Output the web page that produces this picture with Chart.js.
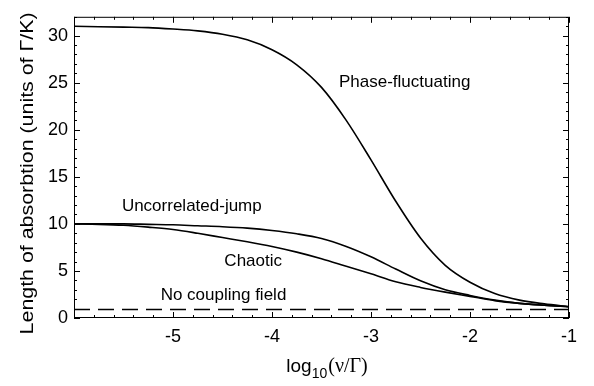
<!DOCTYPE html>
<html>
<head>
<meta charset="utf-8">
<script src="https://cdn.jsdelivr.net/npm/chart.js@4/dist/chart.umd.min.js"></script>
<style>
  html, body { margin: 0; padding: 0; background: #fff; }
  #wrap { width: 594px; height: 386px; }
</style>
</head>
<body>
<div id="wrap"><canvas id="chart-absorption"></canvas></div>
<script>
// values, x = log10(nu/Gamma)
const logNu = [-6, -5.75, -5.5, -5.25, -5, -4.75, -4.5, -4.25, -4, -3.75, -3.5,
               -3.25, -3, -2.75, -2.5, -2.25, -2, -1.75, -1.5, -1.25, -1];
const phaseFluctuating = [31.0, 30.95, 30.9, 30.85, 30.7, 30.5, 30.15, 29.55, 28.5, 26.9, 24.5,
                          21.0, 16.8, 12.4, 8.5, 5.6, 3.8, 2.6, 1.9, 1.5, 1.2];
const uncorrelatedJump = [10.0, 10.0, 10.0, 9.95, 9.9, 9.8, 9.7, 9.55, 9.3, 8.95, 8.45,
                          7.6, 6.5, 5.2, 3.95, 3.0, 2.4, 1.9, 1.55, 1.35, 1.2];
const chaotic = [10.0, 9.95, 9.85, 9.65, 9.4, 9.0, 8.55, 8.1, 7.6, 7.0, 6.3,
                 5.5, 4.7, 3.85, 3.25, 2.75, 2.3, 1.85, 1.55, 1.35, 1.2];
const noCouplingX = [-6, -1];
const noCoupling = [0.9, 0.9];

const xTicks = [-5, -4, -3, -2, -1];
const yTicks = [0, 5, 10, 15, 20, 25, 30];

// curve labels, placed in data coordinates
const curveLabels = [
    { text: 'Phase-fluctuating', x: -2.66, y: 25.0 },
    { text: 'Uncorrelated-jump', x: -4.81, y: 11.9 },
    { text: 'Chaotic',           x: -4.19, y: 6.0 },
    { text: 'No coupling field', x: -4.49, y: 2.4 }
];

const FONT = '"Liberation Sans", Arial, Helvetica, sans-serif';
const SERIF = '"Liberation Serif", "Times New Roman", serif';

function toPoints(xs, ys){
    return xs.map((x, i) => ({ x: x, y: ys[i] }));
}

function curve(label, ys, dash){
    return {
        label: label,
        data: toPoints(dash ? noCouplingX : logNu, ys),
        borderColor: '#000',
        borderWidth: dash ? 1.5 : 1.6,
        borderDash: dash ? [16, 8] : [],
        pointRadius: 0,
        fill: false,
        cubicInterpolationMode: 'monotone'
    };
}

// box around the plot with inward ticks on every side
const frameTicks = {
    id: 'frameTicks',
    afterDatasetsDraw(chart){
        const ctx = chart.ctx;
        const a = chart.chartArea;
        const xs = chart.scales.x, ys = chart.scales.y;
        ctx.save();
        ctx.strokeStyle = '#000';
        ctx.lineWidth = 1;
        ctx.strokeRect(a.left + 0.5, a.top + 0.5, a.right - a.left - 1, a.bottom - a.top - 1);

        ctx.beginPath();
        for(let i = 0; i <= 25; i++){
            const v = -6 + i * 0.2;
            const major = Math.abs(v - Math.round(v)) < 1e-6;
            const len = major ? 6 : 3;
            const px = Math.round(xs.getPixelForValue(v)) + 0.5;
            ctx.moveTo(px, a.bottom); ctx.lineTo(px, a.bottom - len);
            ctx.moveTo(px, a.top); ctx.lineTo(px, a.top + len);
        }
        for(let v = 0; v <= 32; v++){
            const len = v % 5 == 0 ? 6 : 3;
            const py = Math.round(ys.getPixelForValue(v)) + 0.5;
            ctx.moveTo(a.left, py); ctx.lineTo(a.left + len, py);
            ctx.moveTo(a.right, py); ctx.lineTo(a.right - len, py);
        }
        ctx.stroke();
        ctx.restore();
    }
};

const textLayer = {
    id: 'textLayer',
    afterDraw(chart){
        const ctx = chart.ctx;
        const a = chart.chartArea;
        const xs = chart.scales.x, ys = chart.scales.y;
        ctx.save();
        ctx.fillStyle = '#000';

        ctx.font = '17px ' + FONT;
        ctx.textAlign = 'center';
        ctx.textBaseline = 'middle';
        curveLabels.forEach(l => {
            ctx.fillText(l.text, xs.getPixelForValue(l.x), ys.getPixelForValue(l.y));
        });

        // x title: log10(nu/Gamma) with subscript
        ctx.textAlign = 'left';
        ctx.textBaseline = 'alphabetic';
        const partA = 'log', partB = '10', partC = '(\u03BD/\u0393)';
        ctx.font = '19px ' + FONT;
        const wA = ctx.measureText(partA).width;
        ctx.font = '14px ' + FONT;
        const wB = ctx.measureText(partB).width;
        ctx.font = '20px ' + SERIF;
        const wC = ctx.measureText(partC).width;
        let x0 = (a.left + a.right) / 2 + 5 - (wA + wB + wC) / 2;
        const base = a.bottom + 54;
        ctx.font = '19px ' + FONT;
        ctx.fillText(partA, x0, base);
        ctx.font = '14px ' + FONT;
        ctx.fillText(partB, x0 + wA, base + 6);
        ctx.font = '20px ' + SERIF;
        ctx.fillText(partC, x0 + wA + wB + 1, base);

        // y title, rotated and stretched along its length
        const yTitle = 'Length of absorbtion (units of \u0393/K)';
        ctx.font = '18px ' + FONT;
        const wy = ctx.measureText(yTitle).width;
        ctx.translate(28, (a.top + a.bottom) / 2 + 6);
        ctx.rotate(-Math.PI / 2);
        ctx.scale(322 / wy, 1);
        ctx.textAlign = 'center';
        ctx.textBaseline = 'middle';
        ctx.fillText(yTitle, 0, 0);
        ctx.restore();
    }
};

const ctx = document.getElementById('chart-absorption');
new Chart(ctx, {
    type: 'line',
    data: {
        datasets: [
            curve('Phase-fluctuating', phaseFluctuating),
            curve('Uncorrelated-jump', uncorrelatedJump),
            curve('Chaotic', chaotic),
            curve('No coupling field', noCoupling, true)
        ]
    },
    options: {
        responsive: true,
        maintainAspectRatio: false,
        animation: false,
        layout: { padding: { top: 7, right: 25, bottom: 0, left: 0 } },
        plugins: {
            legend: { display: false },
            tooltip: { enabled: false }
        },
        scales: {
            x: {
                type: 'linear',
                min: -6,
                max: -1,
                grid: { display: false, drawTicks: false },
                border: { display: false },
                afterBuildTicks: scale => { scale.ticks = xTicks.map(v => ({ value: v })); },
                afterFit: scale => { scale.height = 68; },
                ticks: {
                    color: '#000',
                    padding: 8,
                    autoSkip: false,
                    maxRotation: 0,
                    font: { family: FONT, size: 18 }
                }
            },
            y: {
                min: 0,
                max: 32,
                grid: { display: false, drawTicks: false },
                border: { display: false },
                afterBuildTicks: scale => { scale.ticks = yTicks.map(v => ({ value: v })); },
                afterFit: scale => { scale.width = 74; },
                ticks: {
                    color: '#000',
                    padding: 6,
                    font: { family: FONT, size: 18 }
                }
            }
        }
    },
    plugins: [frameTicks, textLayer]
});
</script>
</body>
</html>
